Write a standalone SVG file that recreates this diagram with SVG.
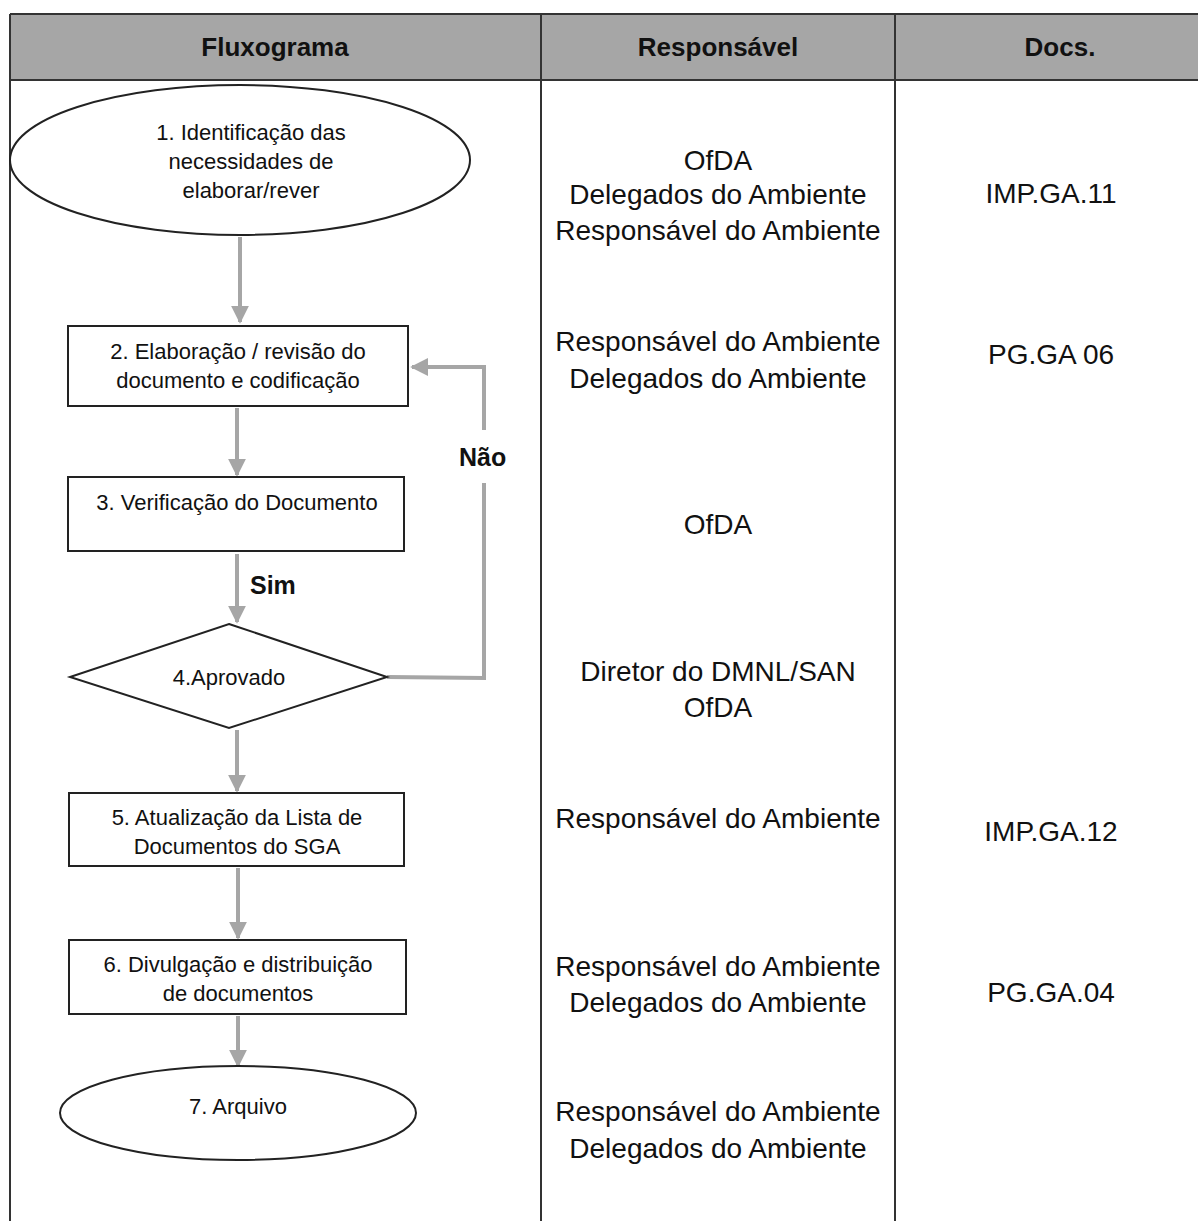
<svg xmlns="http://www.w3.org/2000/svg" width="1198" height="1221" viewBox="0 0 1198 1221">
<defs>
<marker id="ah" viewBox="0 0 10 10" refX="9" refY="5" markerWidth="4.5" markerHeight="4.5" orient="auto" markerUnits="strokeWidth">
<path d="M0,0 L10,5 L0,10 z" fill="#a6a6a6"/>
</marker>
<style>
.hdr{font-family:"Liberation Sans",Arial,sans-serif;font-size:26px;font-weight:bold;fill:#111;text-anchor:middle}
.nt{font-family:"Liberation Sans",Arial,sans-serif;font-size:22px;fill:#111;text-anchor:middle}
.rt{font-family:"Liberation Sans",Arial,sans-serif;font-size:28px;fill:#111;text-anchor:middle}
.lb{font-family:"Liberation Sans",Arial,sans-serif;font-size:25px;font-weight:bold;fill:#111}
.shape{fill:#fff;stroke:#222;stroke-width:2}
.con{fill:none;stroke:#a6a6a6;stroke-width:4}
.grid{stroke:#333;stroke-width:2;fill:none}
</style>
</defs>
<rect width="1198" height="1221" fill="#fff"/>
<g id="table">
<rect x="10" y="14" width="1190" height="66" fill="#a6a6a6"/>
<line class="grid" x1="10" y1="14" x2="1200" y2="14"/>
<line class="grid" x1="10" y1="80" x2="1200" y2="80"/>
<line class="grid" x1="10" y1="14" x2="10" y2="1221"/>
<line class="grid" x1="541" y1="14" x2="541" y2="1221"/>
<line class="grid" x1="895" y1="14" x2="895" y2="1221"/>
<text class="hdr" x="275" y="56">Fluxograma</text>
<text class="hdr" x="718" y="56">Responsável</text>
<text class="hdr" x="1060" y="56">Docs.</text>
</g>
<g id="connectors">
<line class="con" x1="240" y1="237" x2="240" y2="322" marker-end="url(#ah)"/>
<line class="con" x1="237" y1="408" x2="237" y2="475" marker-end="url(#ah)"/>
<line class="con" x1="237" y1="554" x2="237" y2="622" marker-end="url(#ah)"/>
<line class="con" x1="237" y1="730" x2="237" y2="791" marker-end="url(#ah)"/>
<line class="con" x1="238" y1="868" x2="238" y2="938" marker-end="url(#ah)"/>
<line class="con" x1="238" y1="1016" x2="238" y2="1066" marker-end="url(#ah)"/>
<polyline class="con" points="387,677 484,678 484,483"/>
<polyline class="con" points="484,430 484,367 412,367" marker-end="url(#ah)"/>
<text class="lb" x="250" y="594">Sim</text>
<text class="lb" x="459" y="466">Não</text>
</g>
<g id="n1">
<ellipse class="shape" cx="240" cy="160" rx="230" ry="75"/>
<text class="nt" x="251" y="140">1. Identificação das</text>
<text class="nt" x="251" y="169">necessidades de</text>
<text class="nt" x="251" y="198">elaborar/rever</text>
</g>
<g id="n2">
<rect class="shape" x="68" y="326" width="340" height="80"/>
<text class="nt" x="238" y="359">2. Elaboração / revisão do</text>
<text class="nt" x="238" y="388">documento e codificação</text>
</g>
<g id="n3">
<rect class="shape" x="68" y="477" width="336" height="74"/>
<text class="nt" x="237" y="510">3. Verificação do Documento</text>
</g>
<g id="n4">
<polygon class="shape" points="229,624 387,677 229,728 70,677"/>
<text class="nt" x="229" y="685">4.Aprovado</text>
</g>
<g id="n5">
<rect class="shape" x="69" y="793" width="335" height="73"/>
<text class="nt" x="237" y="825">5. Atualização da Lista de</text>
<text class="nt" x="237" y="854">Documentos do SGA</text>
</g>
<g id="n6">
<rect class="shape" x="69" y="940" width="337" height="74"/>
<text class="nt" x="238" y="972">6. Divulgação e distribuição</text>
<text class="nt" x="238" y="1001">de documentos</text>
</g>
<g id="n7">
<ellipse class="shape" cx="238" cy="1113" rx="178" ry="47"/>
<text class="nt" x="238" y="1114">7. Arquivo</text>
</g>
<g id="responsavel">
<text class="rt" x="718" y="170">OfDA</text>
<text class="rt" x="718" y="204">Delegados do Ambiente</text>
<text class="rt" x="718" y="240">Responsável do Ambiente</text>
<text class="rt" x="718" y="351">Responsável do Ambiente</text>
<text class="rt" x="718" y="388">Delegados do Ambiente</text>
<text class="rt" x="718" y="534">OfDA</text>
<text class="rt" x="718" y="681">Diretor do DMNL/SAN</text>
<text class="rt" x="718" y="717">OfDA</text>
<text class="rt" x="718" y="828">Responsável do Ambiente</text>
<text class="rt" x="718" y="976">Responsável do Ambiente</text>
<text class="rt" x="718" y="1012">Delegados do Ambiente</text>
<text class="rt" x="718" y="1121">Responsável do Ambiente</text>
<text class="rt" x="718" y="1158">Delegados do Ambiente</text>
</g>
<g id="docs">
<text class="rt" x="1051" y="203">IMP.GA.11</text>
<text class="rt" x="1051" y="364">PG.GA 06</text>
<text class="rt" x="1051" y="841">IMP.GA.12</text>
<text class="rt" x="1051" y="1002">PG.GA.04</text>
</g>
</svg>
